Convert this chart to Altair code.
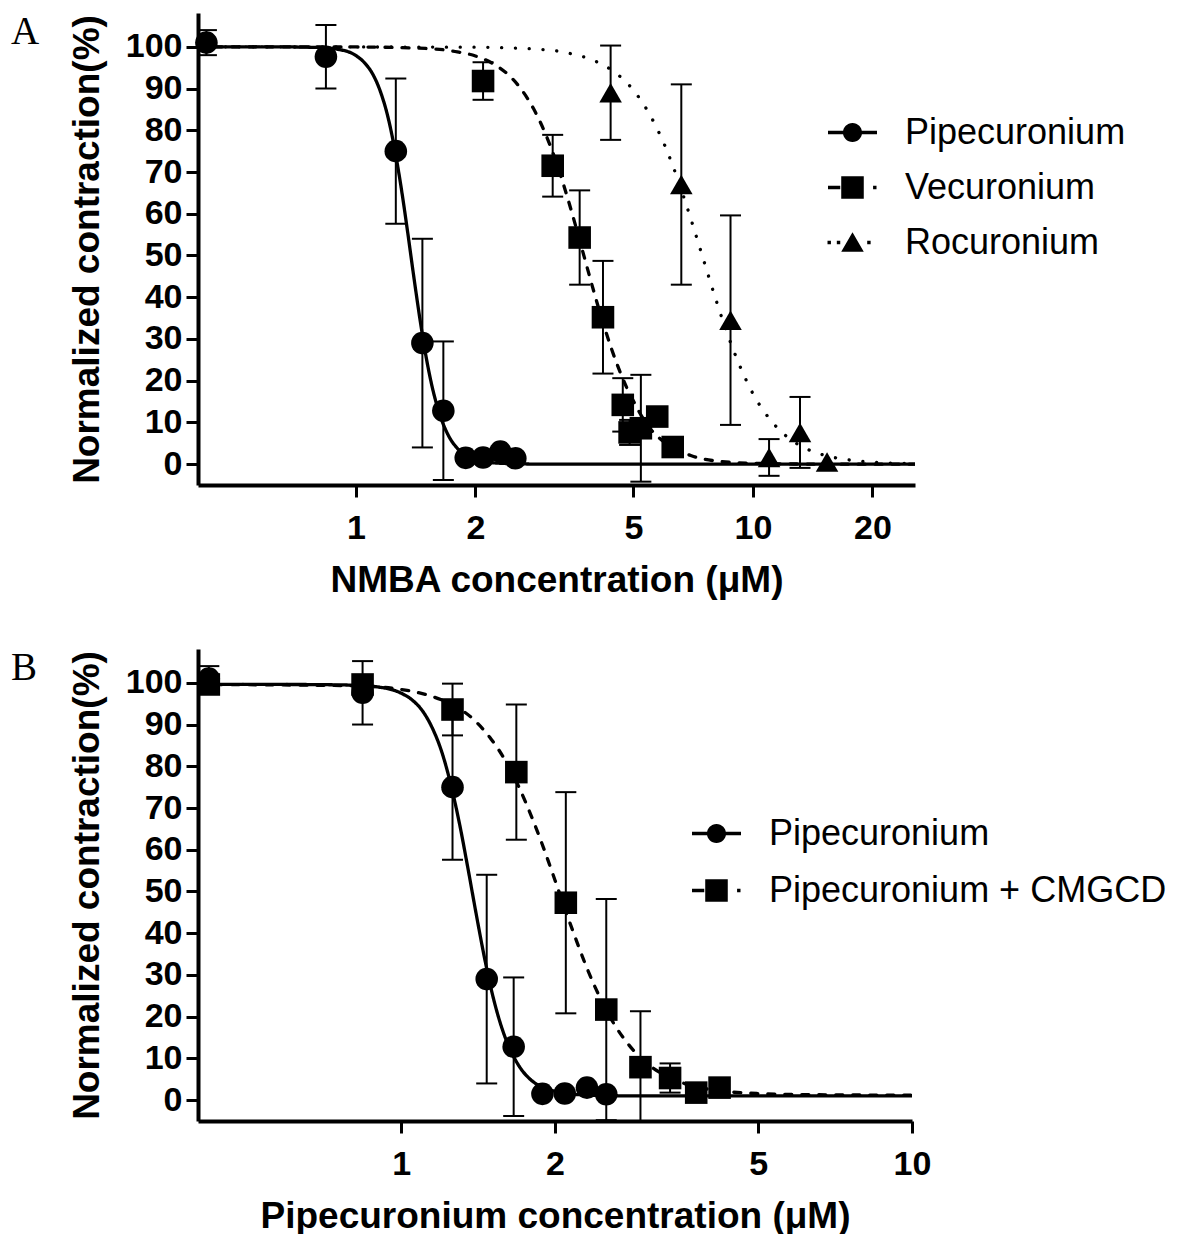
import altair as alt
import pandas as pd

# ---------------- Panel A data ----------------
pip_x = [0.42, 0.84, 1.26, 1.47, 1.66, 1.89, 2.09, 2.31, 2.52]
pip_y = [101.0, 97.6, 75.0, 29.0, 12.8, 1.5, 1.6, 3.0, 1.4]
pip_err = [3.0, 7.6, 17.4, 25.0, 16.6, 0, 0, 0, 0]

vec_x = [2.09, 3.13, 3.66, 4.19, 4.70, 4.89, 5.22, 5.74, 6.28]
vec_y = [91.8, 71.5, 54.3, 35.2, 14.2, 7.6, 8.6, 11.4, 4.1]
vec_err = [4.5, 7.4, 11.3, 13.5, 6.4, 3.0, 12.8, 0, 0]

roc_x = [4.38, 6.60, 8.78, 10.98, 13.14, 15.37]
roc_y = [89.0, 67.0, 34.5, 1.6, 7.6, 0.5]
roc_err = [11.3, 24.0, 25.1, 4.4, 8.5, 0]

# fitted curves
pipA_cx = [0.4, 0.6, 0.8, 0.9, 1.0, 1.05, 1.1, 1.15, 1.2, 1.25, 1.3, 1.35, 1.4,
           1.45, 1.5, 1.55, 1.6, 1.7, 1.8, 1.9, 2.0, 2.2, 2.5, 3.0, 25.6]
pipA_cy = [100, 100, 99.85, 99.4, 97.9, 96.2, 93.6, 89.5, 83.7, 75.8, 66.2, 55.5, 44.6,
           34.6, 26.0, 19.2, 14.0, 7.3, 3.8, 2.0, 1.1, 0.35, 0.1, 0, 0]

vec_cx = [0.4, 1.0, 1.5, 1.8, 2.0, 2.2, 2.4, 2.6, 2.8, 3.0, 3.2, 3.4, 3.6, 3.8, 4.0,
          4.2, 4.4, 4.6, 4.8, 5.0, 5.4, 5.8, 6.2, 7.0, 8.0, 10.0, 15.0, 25.6]
vec_cy = [100, 99.96, 99.6, 98.8, 97.8, 96.1, 93.6, 90.0, 85.2, 79.2, 72.2, 64.3, 56.1, 48.0, 40.4,
          33.6, 27.7, 22.7, 18.5, 15.1, 9.6, 6.3, 4.3, 2.0, 0.8, 0.2, 0, 0]

roc_cx = [0.4, 2.0, 3.0, 3.5, 4.0, 4.5, 5.0, 5.5, 6.0, 6.5, 7.0, 7.5, 8.0, 8.5, 9.0,
          9.5, 10, 11, 12, 13, 14, 16, 18, 20, 25.6]
roc_cy = [100, 99.9, 99.3, 98.3, 96.6, 93.8, 89.6, 83.7, 76.3, 67.6, 58.3, 49.1, 40.5, 32.9, 26.5,
          21.2, 16.9, 10.9, 7.1, 4.7, 3.2, 1.6, 0.85, 0.48, 0.13]

# ---------------- Panel B data ----------------
cm_x = [0.42, 0.84, 1.26, 1.68, 2.10, 2.52, 2.94, 3.36, 3.78, 4.20]
cm_y = [99.6, 99.6, 93.6, 78.6, 47.3, 21.7, 7.9, 5.3, 1.8, 3.0]
cm_err = [0, 0, 6.2, 16.2, 26.5, 26.5, 13.4, 3.5, 0, 0]

pipB_cx = [0.4, 0.6, 0.8, 0.9, 1.0, 1.05, 1.1, 1.15, 1.2, 1.25, 1.3, 1.35, 1.4,
           1.45, 1.5, 1.55, 1.6, 1.7, 1.8, 1.9, 2.0, 2.2, 2.5, 3.0, 10.0]
pipB_cy = [99.6, 99.6, 99.45, 99.0, 97.5, 95.9, 93.3, 89.2, 83.5, 75.7, 66.3, 55.7, 45.0,
           35.1, 26.6, 19.9, 14.8, 8.2, 4.7, 3.0, 2.1, 1.35, 1.1, 1.0, 1.0]

cm_cx = [0.4, 0.8, 1.0, 1.1, 1.2, 1.3, 1.4, 1.5, 1.6, 1.7, 1.8, 1.9, 2.0, 2.1, 2.2,
         2.3, 2.4, 2.6, 2.8, 3.0, 3.3, 3.6, 4.0, 5.0, 6.0, 8.0, 10.0]
cm_cy = [99.6, 99.3, 98.4, 97.4, 95.9, 93.8, 90.7, 86.5, 81.3, 75.0, 67.9, 60.4, 52.7, 45.2, 38.4,
         32.2, 26.9, 18.6, 13.0, 9.2, 5.8, 3.9, 2.6, 1.57, 1.35, 1.23, 1.2]

A_series = ["Pipecuronium", "Vecuronium", "Rocuronium"]
B_series = ["Pipecuronium", "Pipecuronium + CMGCD"]
A_xticks = [1, 2, 5, 10, 20]
B_xticks = [1, 2, 5, 10]
y_ticks = [0, 10, 20, 30, 40, 50, 60, 70, 80, 90, 100]

# ---------------- styles ----------------
SANS = "Liberation Sans"
SERIF = "Liberation Serif"


def bar(x0, x1, h=0.07):
    return f"M{x0} {-h}L{x1} {-h}L{x1} {h}L{x0} {h}Z"


# legend glyphs: line pieces drawn as thin filled bars plus the marker
P_CIRCLE = bar(-1, 1) + "M0.39 0A0.39 0.39 0 1 1 -0.39 0A0.39 0.39 0 1 1 0.39 0Z"
P_SQUARE = bar(-1, -0.5) + "M-0.46 -0.46L0.46 -0.46L0.46 0.46L-0.46 0.46Z" + bar(0.84, 0.98)
P_TRI = (bar(-1.02, -0.88) + bar(-0.64, -0.5) + "M0 -0.42L0.46 0.38L-0.46 0.38Z"
         + bar(0.6, 0.74))
SOLID = [1, 0]
DASHED = [7, 10]
DOTTED = [0.1, 13.7]


def curve_df(xs, ys):
    return pd.DataFrame({"x": xs, "y": ys})


def pts_df(xs, ys, es, name):
    return pd.DataFrame({"x": xs, "y": ys, "err": es, "series": name})


def panel(curve_list, pts_list, series, legend_paths, xdomain, xticks,
          xtitle, letter, legend_x, legend_y, row_pad, width, height):
    xscale = alt.Scale(type="log", domain=xdomain, nice=False)
    yscale = alt.Scale(domain=[-5, 108.1], nice=False, zero=False)
    xaxis = alt.Axis(values=xticks, format="~g", title=xtitle, labelFlush=False,
                     labelOverlap=False)
    ytitle = "Normalized contraction(%)"
    yaxis = alt.Axis(values=y_ticks, title=ytitle, labelOverlap=False)
    X = alt.X("x:Q", scale=xscale, axis=xaxis, title=xtitle)

    def Y(f):
        return alt.Y(f, scale=yscale, axis=yaxis, title=ytitle)

    layers = []
    for (cx, cy, dash) in curve_list:
        layers.append(
            alt.Chart(curve_df(cx, cy)).mark_line(
                color="black", strokeWidth=3.3, strokeCap="round", strokeDash=dash,
                interpolate="monotone", clip=True
            ).encode(x=X, y=Y("y:Q"))
        )

    all_pts = pd.concat([p[0] for p in pts_list], ignore_index=True)
    err = alt.Chart(all_pts).transform_filter("datum.err > 0").transform_calculate(
        lo="datum.y - datum.err", hi="datum.y + datum.err")
    layers.append(err.mark_rule(color="black", strokeWidth=2, clip=True).encode(
        x=X, y=Y("lo:Q"), y2="hi:Q"))
    for f in ["lo:Q", "hi:Q"]:
        layers.append(err.mark_tick(orient="horizontal", size=21, thickness=2, color="black",
                                    opacity=1, clip=True).encode(x=X, y=Y(f)))

    for (df, shp) in pts_list:
        layers.append(alt.Chart(df).mark_point(
            filled=True, size=510, color="black", opacity=1, shape=shp
        ).encode(x=X, y=Y("y:Q")))

    leg = alt.Chart(all_pts).transform_filter("false").mark_point(
        filled=True, color="black", size=2401, opacity=1
    ).encode(
        x=X, y=Y("y:Q"),
        shape=alt.Shape(
            "series:N",
            scale=alt.Scale(domain=series, range=legend_paths),
            legend=alt.Legend(
                title=None, orient="none", legendX=legend_x, legendY=legend_y,
                direction="vertical", symbolSize=2401, symbolStrokeWidth=0,
                symbolFillColor="black", symbolOpacity=1,
                labelFont=SANS, labelFontSize=36, labelFontWeight="normal",
                labelColor="black", labelLimit=1000, labelOffset=28, rowPadding=row_pad,
                padding=0,
            ),
        ),
    )
    layers.append(leg)

    layers.append(alt.Chart(pd.DataFrame({"t": [letter]})).mark_text(
        font=SERIF, fontSize=39, align="left", baseline="top", color="black"
    ).encode(text="t:N", x=alt.value(-187), y=alt.value(0)))

    return alt.layer(*layers).properties(width=width, height=height)


panelA = panel(
    [(pipA_cx, pipA_cy, SOLID), (vec_cx, vec_cy, DASHED), (roc_cx, roc_cy, DOTTED)],
    [(pts_df(pip_x, pip_y, pip_err, "Pipecuronium"), "circle"),
     (pts_df(vec_x, vec_y, vec_err, "Vecuronium"), "square"),
     (pts_df(roc_x, roc_y, roc_err, "Rocuronium"), "triangle-up")],
    A_series, [P_CIRCLE, P_SQUARE, P_TRI],
    [0.4, 25.6], A_xticks, "NMBA concentration (\u03bcM)", "A", 630, 95, 12, 717, 472)

panelB = panel(
    [(pipB_cx, pipB_cy, SOLID), (cm_cx, cm_cy, DASHED)],
    [(pts_df(pip_x, pip_y, pip_err, "Pipecuronium"), "circle"),
     (pts_df(cm_x, cm_y, cm_err, "Pipecuronium + CMGCD"), "square")],
    B_series, [P_CIRCLE, P_SQUARE],
    [0.4, 10], B_xticks, "Pipecuronium concentration (\u03bcM)", "B", 494, 160, 14, 714, 472)

chart = alt.vconcat(panelA, panelB, spacing=51).resolve_scale(
    shape="independent"
).resolve_legend(shape="independent").properties(
    padding={"left": 3, "top": 5, "right": 0, "bottom": 0}
).configure_view(stroke=None).configure_axis(
    grid=False, domainColor="black", domainWidth=4, tickColor="black", tickWidth=3,
    tickSize=12, labelFont=SANS, labelFontSize=34, labelFontWeight="bold", labelColor="black",
    titleFont=SANS, titleFontSize=37, titleFontWeight="bold", titleColor="black",
).configure_axisX(labelPadding=14, titlePadding=17).configure_axisY(labelPadding=4, titlePadding=19)

chart.save("out.html", embed_options={"renderer": "svg", "actions": False})
